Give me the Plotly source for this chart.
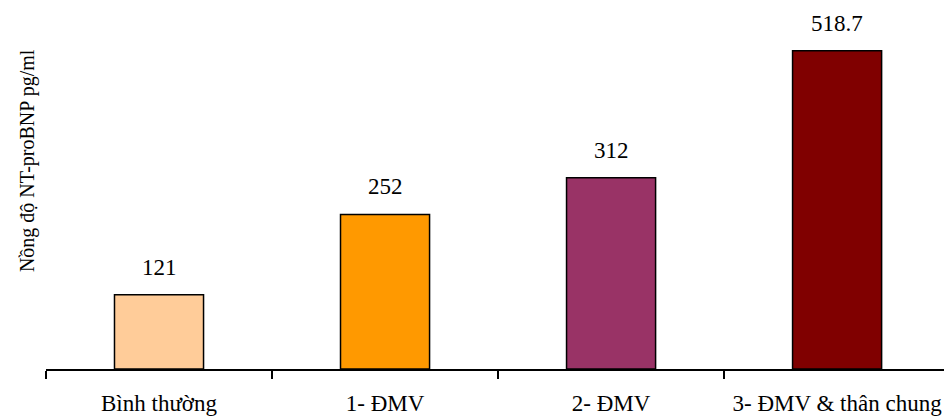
import plotly.graph_objects as go

# NT-proBNP concentration by group
categories = ["Bình thường", "1- ĐMV", "2- ĐMV", "3- ĐMV & thân chung"]
values = [121, 252, 312, 518.7]
value_labels = ["121", "252", "312", "518.7"]
bar_colors = ["#FFCC99", "#FF9900", "#993366", "#800000"]
y_title = "Nồng độ NT-proBNP pg/ml"

FONT = "Liberation Serif, Times New Roman, serif"

fig = go.Figure()
fig.add_trace(go.Bar(
    x=categories,
    y=values,
    width=0.394,
    marker=dict(color=bar_colors, line=dict(color="#000000", width=1.5)),
    hoverinfo="skip",
))

for cat, val, lab in zip(categories, values, value_labels):
    fig.add_annotation(
        x=cat, y=val, text=lab, showarrow=False,
        yanchor="bottom", yshift=13,
        font=dict(family=FONT, size=23, color="#000000"),
    )

# vertical axis title, placed as rotated text left of the plot
fig.add_annotation(
    xref="paper", x=0, xanchor="center", xshift=-19,
    yref="y", y=339, yanchor="middle",
    text=y_title, textangle=-90, showarrow=False,
    font=dict(family=FONT, size=20, color="#000000"),
)

fig.update_layout(
    width=944, height=418,
    margin=dict(l=46, r=0, t=20, b=49, autoexpand=False),
    paper_bgcolor="#FFFFFF", plot_bgcolor="#FFFFFF",
    showlegend=False,
    font=dict(family=FONT, size=23, color="#000000"),
)
fig.update_xaxes(
    type="category",
    range=[-0.5, 3.473],
    tickson="boundaries",
    ticks="outside", ticklen=8, tickwidth=1.5, tickcolor="#000000",
    showline=True, linecolor="#000000", linewidth=1.5,
    showgrid=False, zeroline=False,
    tickfont=dict(family=FONT, size=23, color="#000000"),
    ticklabelstandoff=13,
    automargin=False,
)
fig.update_yaxes(
    range=[0, 569],
    showticklabels=False, ticks="", showline=False,
    showgrid=False, zeroline=False,
    automargin=False,
)

fig.write_html("out.html")
